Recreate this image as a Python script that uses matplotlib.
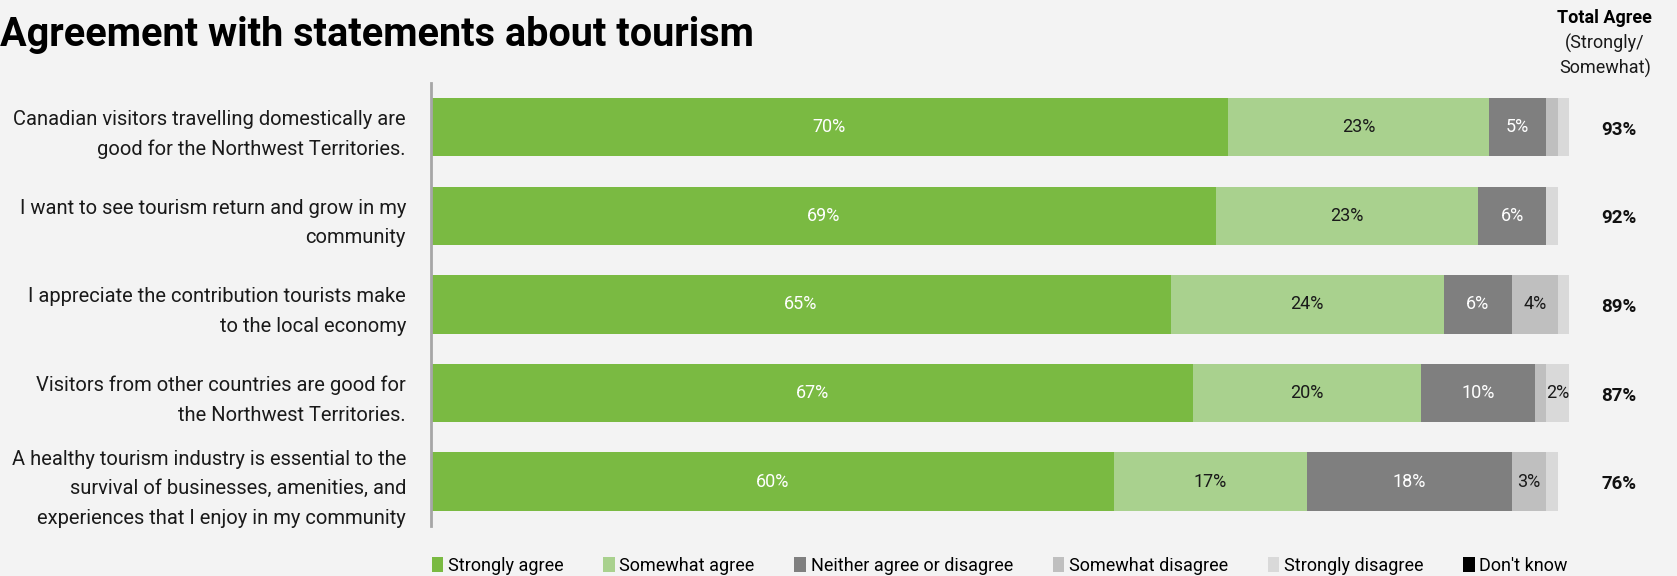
import numpy as np
import matplotlib.pyplot as plt
from matplotlib.patches import Patch

plt.rcParams['font.family'] = ['Roboto', 'DejaVu Sans']

statements = [
    "Canadian visitors travelling domestically are\ngood for the Northwest Territories.",
    "I want to see tourism return and grow in my\ncommunity",
    "I appreciate the contribution tourists make\nto the local economy",
    "Visitors from other countries are good for\nthe Northwest Territories.",
    "A healthy tourism industry is essential to the\nsurvival of businesses, amenities, and\nexperiences that I enjoy in my community",
]
strongly_agree = [70, 69, 65, 67, 60]
somewhat_agree = [23, 23, 24, 20, 17]
neither = [5, 6, 6, 10, 18]
somewhat_disagree = [1, 0, 4, 1, 3]
strongly_disagree = [1, 1, 1, 2, 1]
dont_know = [0, 0, 0, 0, 0]
total_agree = [93, 92, 89, 87, 76]

series = [
    ("Strongly agree", strongly_agree, "#7aba42", "white"),
    ("Somewhat agree", somewhat_agree, "#a9d18e", "#1a1a1a"),
    ("Neither agree or disagree", neither, "#7f7f7f", "white"),
    ("Somewhat disagree", somewhat_disagree, "#bfbfbf", "#1a1a1a"),
    ("Strongly disagree", strongly_disagree, "#d9d9d9", "#1a1a1a"),
    ("Don't know", dont_know, "#000000", "white"),
]
# segments too small to label
min_label = {"Somewhat disagree": 2, "Strongly disagree": 2}

bg = "#f3f3f3"
fig = plt.figure(figsize=(16.77, 5.76), dpi=100, facecolor=bg)
ax = fig.add_axes([0.257, 0.087, 0.6786, 0.769], facecolor=bg)

y = np.arange(len(statements))
left = np.zeros(len(statements))
for name, vals, color, tcolor in series:
    vals = np.array(vals, dtype=float)
    ax.barh(y, vals, left=left, height=0.66, color=color, label=name)
    for i, v in enumerate(vals):
        if v >= min_label.get(name, 3):
            ax.text(left[i] + v / 2, y[i], f"{int(v)}%", ha="center", va="center",
                    color=tcolor, fontsize=13)
    left += vals

for i, t in enumerate(total_agree):
    ax.text(104.4, y[i] + 0.03, f"{t}%", ha="center", va="center", fontsize=13.5,
            fontweight="bold", color="#111111", clip_on=False)

ax.set_xlim(0, 100)
ax.set_ylim(4.5, -0.5)
ax.set_yticks(y)
ax.set_yticklabels(statements, fontsize=14.5, color="#1a1a1a", linespacing=1.7)
ax.tick_params(axis="y", length=0, pad=18)
ax.set_xticks([])
for s in ["top", "right", "bottom"]:
    ax.spines[s].set_visible(False)
ax.spines["left"].set_color("#a6a6a6")
ax.spines["left"].set_linewidth(2)

fig.text(0.0, 0.94, "Agreement with statements about tourism", fontsize=28.5,
         fontweight="bold", ha="left", va="center", color="#000000")
fig.text(0.957, 0.968, "Total Agree", fontsize=13, fontweight="bold", ha="center", va="center")
fig.text(0.957, 0.925, "(Strongly/", fontsize=13, ha="center", va="center", color="#1a1a1a")
fig.text(0.957, 0.882, "Somewhat)", fontsize=13, ha="center", va="center", color="#1a1a1a")

handles = [Patch(facecolor=c, label=n) for n, _, c, _ in series]
fig.legend(handles=handles, loc="center left", bbox_to_anchor=(0.253, 0.017), ncol=6,
           frameon=False, fontsize=13, handlelength=0.65, handleheight=0.9,
           handletextpad=0.25, columnspacing=2.2, borderaxespad=0)

fig.savefig("out.png", dpi=100, facecolor=bg)
